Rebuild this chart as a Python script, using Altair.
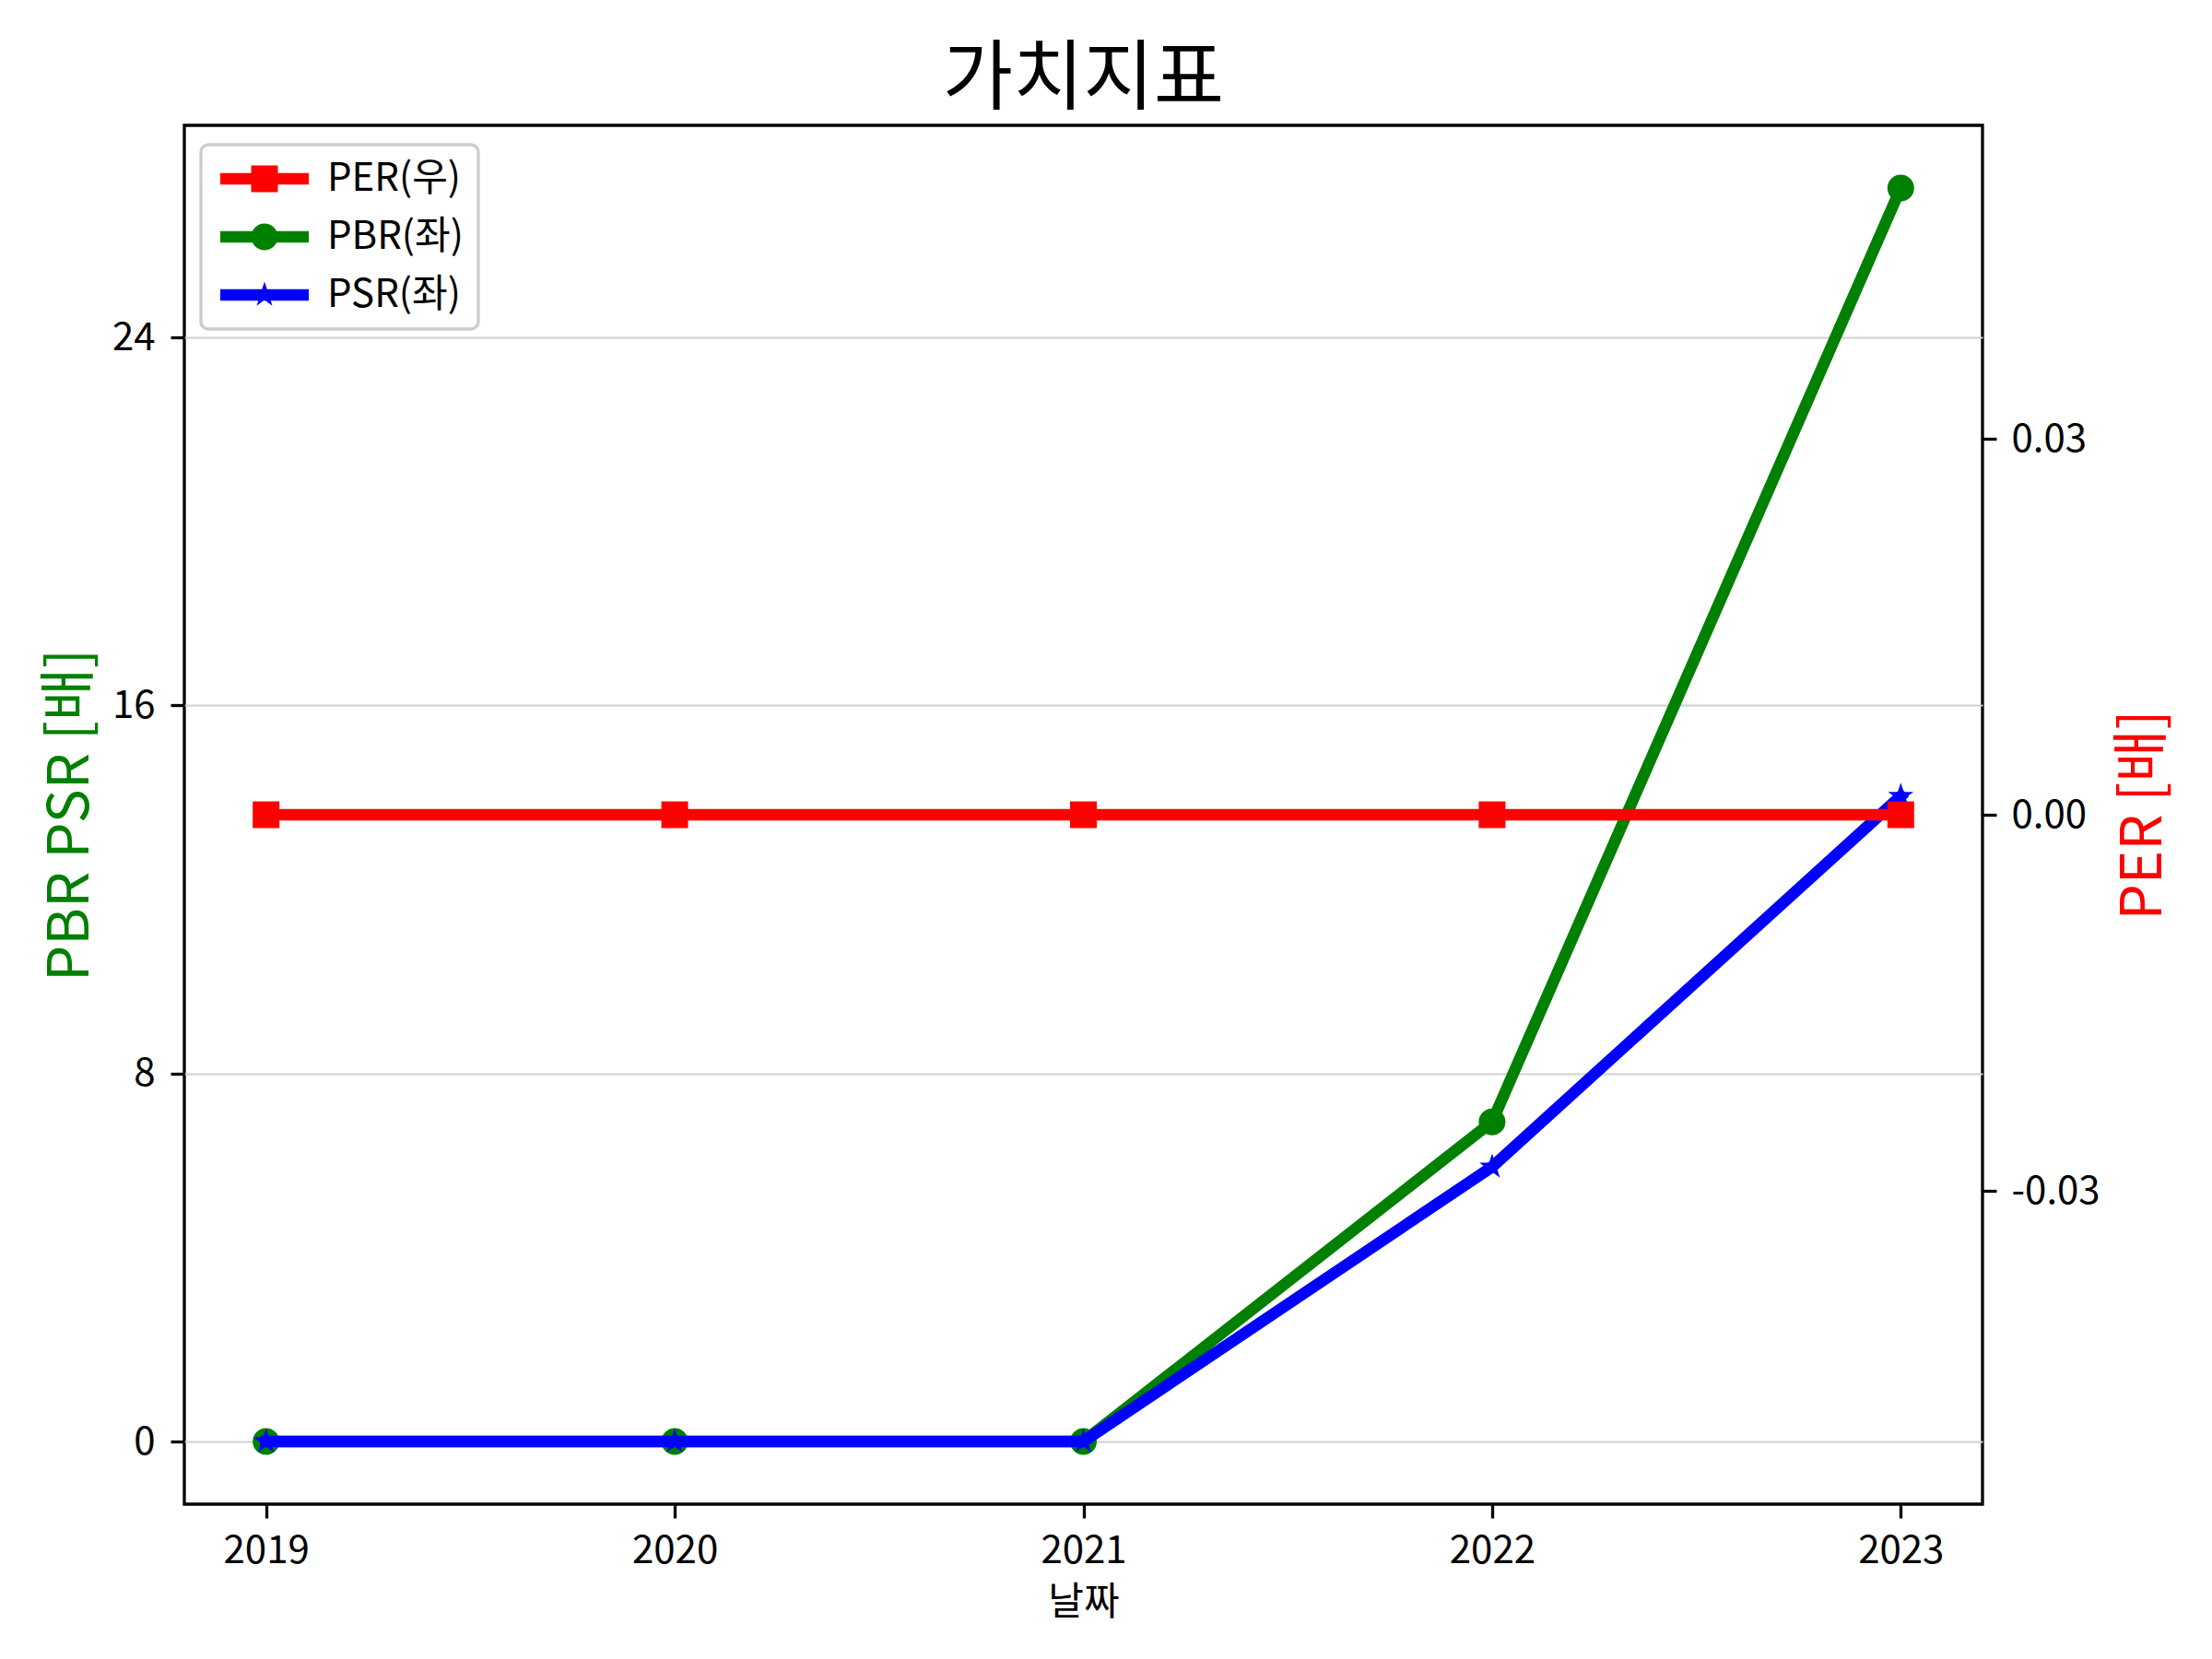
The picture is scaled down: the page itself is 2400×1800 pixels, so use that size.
import math
import altair as alt
import pandas as pd

# ---- data ----
years = [2019, 2020, 2021, 2022, 2023]
per = [0.0, 0.0, 0.0, 0.0, 0.0]
pbr = [0.0, 0.0, 0.0, 6.95, 27.25]
psr = [0.0, 0.0, 0.0, 5.97, 14.03]
series = ["PER(우)", "PBR(좌)", "PSR(좌)"]
colors = ["#ff0000", "#008000", "#0000ff"]
left_ticks = [0, 8, 16, 24]
right_ticks = [-0.03, 0.0, 0.03]

df = pd.DataFrame({"year": years, "PER": per, "PBR": pbr, "PSR": psr})
legend_df = pd.DataFrame({"series": series, "year": [years[0]] * 3, "v": [pbr[0]] * 3})

FONT = "Noto Sans CJK KR"
W, H = 1951, 1496
LW = 12.5
MS = 841

# legend symbols: line + marker, custom paths in unit box coords
def rect(x0, y0, x1, y1):
    return f"M{x0},{y0}L{x1},{y0}L{x1},{y1}L{x0},{y1}Z"

line_p = rect(-3, -0.39, 3, 0.39)
R = 0.906
sq_p = rect(-R, -R, R, R)
circ_p = f"M{R},0A{R},{R},0,1,1,{-R},0A{R},{R},0,1,1,{R},0Z"
pts = []
for k in range(10):
    ang = math.radians(-90 + 36 * k)
    r = R if k % 2 == 0 else R * 0.382
    pts.append(f"{r*math.cos(ang):.4f},{r*math.sin(ang):.4f}")
star_p = "M" + "L".join(pts) + "Z"
shapes = [line_p + sq_p, line_p + circ_p, line_p + star_p]

x_enc = alt.X(
    "year:Q",
    scale=alt.Scale(domain=[2018.8, 2023.2], nice=False, zero=False),
    axis=alt.Axis(values=years, format="d", title="날짜", grid=False,
                  labelPadding=15, titleX=W / 2, titleY=106,
                  titleBaseline="middle", titleFontSize=42),
)

y_left_scale = alt.Scale(domain=[-1.3625, 28.6125], nice=False, zero=False)
y_left_axis = alt.Axis(values=left_ticks, format="d", title="PBR PSR [배]",
                       titleColor="#008000", titleFontSize=62, grid=True,
                       gridColor="#d0d0d0", gridWidth=2, labelPadding=17,
                       titleAngle=270, titleX=-124, titleY=H / 2,
                       titleAlign="center", titleBaseline="middle")

def yl(field):
    return alt.Y(f"{field}:Q", scale=y_left_scale, axis=y_left_axis)

base = alt.Chart(df)

pbr_line = base.mark_line(
    color=colors[1], strokeWidth=LW, strokeCap="square", strokeJoin="round",
    point=alt.OverlayMarkDef(shape="circle", size=MS, filled=True, color=colors[1], opacity=1),
).encode(x=x_enc, y=yl("PBR"))

psr_line = base.mark_line(
    color=colors[2], strokeWidth=LW, strokeCap="square", strokeJoin="round",
    point=alt.OverlayMarkDef(shape=star_p, size=1024, filled=True, color=colors[2], opacity=1),
).encode(x=x_enc, y=yl("PSR"))

leg = alt.Legend(
    title=None, orient="none", legendX=18, legendY=21,
    symbolSize=1024, symbolOffset=32, labelOffset=47,
    symbolStrokeWidth=0, symbolOpacity=1,
    labelFontSize=42, labelFont=FONT, labelColor="black",
    padding=16, rowPadding=21, fillColor="white",
    strokeColor="#cccccc", cornerRadius=8, labelLimit=400,
)

legend_layer = alt.Chart(legend_df).mark_point(filled=True, opacity=0).encode(
    x=alt.X("year:Q", scale=alt.Scale(domain=[2018.8, 2023.2], nice=False, zero=False)),
    y=yl("v"),
    color=alt.Color("series:N", scale=alt.Scale(domain=series, range=colors), legend=leg),
    shape=alt.Shape("series:N", scale=alt.Scale(domain=series, range=shapes), legend=leg),
)

left = alt.layer(pbr_line, psr_line, legend_layer)

per_line = base.mark_line(
    color=colors[0], strokeWidth=LW, strokeCap="square", strokeJoin="round",
    point=alt.OverlayMarkDef(shape="square", size=MS, filled=True, color=colors[0], opacity=1),
).encode(
    x=x_enc,
    y=alt.Y("PER:Q",
            scale=alt.Scale(domain=[-0.055, 0.055], nice=False, zero=False),
            axis=alt.Axis(orient="right", values=right_ticks, title="PER [배]",
                          labelExpr="replace(format(datum.value, '.2f'), '\u2212', '-')",
                          titleColor="#ff0000", titleFontSize=62, grid=False,
                          labelPadding=16, titleAngle=270, titleX=174, titleY=H / 2,
                          titleAlign="center", titleBaseline="middle")),
)

chart = alt.layer(left, per_line).resolve_scale(y="independent").properties(
    width=W, height=H,
    title=alt.TitleParams("가치지표", fontSize=83, font=FONT, fontWeight="normal",
                          anchor="middle", frame="group", baseline="alphabetic",
                          offset=24, dy=83, color="black"),
    autosize=alt.AutoSizeParams(type="none"),
    padding={"left": 192, "top": 128, "right": 241, "bottom": 160},
).configure(font=FONT).configure_view(
    stroke="black", strokeWidth=3.3
).configure_axis(
    labelFont=FONT, titleFont=FONT, labelFontSize=42, labelColor="black",
    tickSize=15, tickWidth=3.3, tickColor="black", domain=False,
    titleFontWeight="normal", labelFlush=False, labelOverlap=False,
).configure_legend(strokeWidth=3.3)

chart.save("out.html", embed_options={"renderer": "svg", "actions": False})
